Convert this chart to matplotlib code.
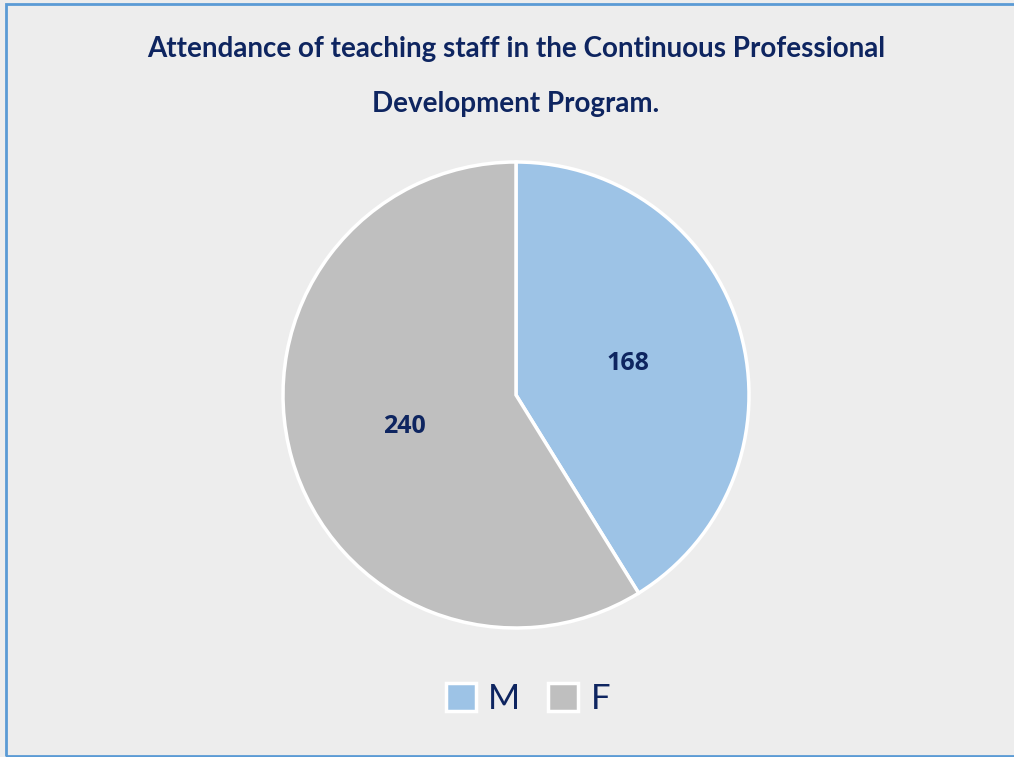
import matplotlib.pyplot as plt
from matplotlib.patches import Patch, Rectangle

labels = ['M', 'F']
counts = [168, 240]
colors = ['#9DC3E6', '#BFBFBF']
title_lines = ['Attendance of teaching staff in the Continuous Professional',
               'Development Program.']
navy = '#0E2560'

fig = plt.figure(figsize=(10.14, 7.57), dpi=100)
fig.patch.set_facecolor('#EDEDED')

# frame around the chart area
fig.patches.append(Rectangle((6 / 1014, 1 / 757), 1.0, 752 / 757,
                             transform=fig.transFigure, fill=False,
                             edgecolor='#5B9BD5', linewidth=2))

# title, two lines with wide spacing
for i, line in enumerate(title_lines):
    fig.text(516 / 1014, 1 - (57 + 55 * i) / 757, line, ha='center', va='baseline',
             fontsize=20, fontweight='bold', color=navy, family='Lato')

ax = fig.add_axes([283 / 1014, 1 - 628 / 757, 466 / 1014, 466 / 757])
ax.set_facecolor('none')
wedges, texts = ax.pie(counts, colors=colors, startangle=90, counterclock=False,
                       labels=[str(c) for c in counts], labeldistance=0.5,
                       wedgeprops=dict(edgecolor='white', linewidth=2.5))
for t in texts:
    t.set_ha('center')
    t.set_va('center')
    t.set_fontsize(18)
    t.set_fontweight('bold')
    t.set_color(navy)
    t.set_family('Open Sans')
ax.set_xlim(-1, 1)
ax.set_ylim(-1, 1)
ax.set_aspect('equal')
ax.axis('off')

handles = [Patch(facecolor=c, edgecolor='white', linewidth=2.5) for c in colors]
leg = fig.legend(handles, labels, loc='center', bbox_to_anchor=(528 / 1014, 1 - 699 / 757),
                 ncol=2, frameon=False, fontsize=25, handlelength=0.86, handleheight=0.86,
                 handletextpad=0.36, columnspacing=0.8)
for t in leg.get_texts():
    t.set_color(navy)
    t.set_family('Lato')

fig.savefig('out.png', dpi=100, facecolor=fig.get_facecolor())
